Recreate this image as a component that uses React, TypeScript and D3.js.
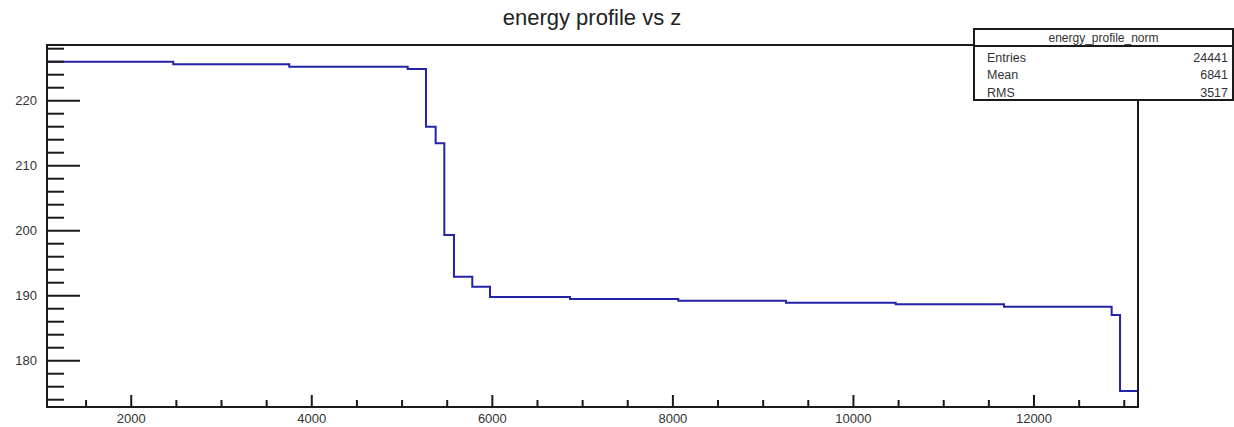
import { useEffect, useRef } from 'react';
import * as d3 from 'd3';

// histogram bin edges (z) and bin contents
const binEdges = [1067, 2466, 3751, 5062, 5265, 5372, 5468, 5575, 5778, 5974, 6860, 8060, 9253, 10468, 11668, 12860, 12953, 13152];
const binValues = [226.0, 225.6, 225.23, 224.88, 216.0, 213.45, 199.34, 192.92, 191.38, 189.8, 189.49, 189.23, 188.92, 188.68, 188.31, 187.03, 175.34];

const xTickLabels = [2000, 4000, 6000, 8000, 10000, 12000];
const yTickLabels = [180, 190, 200, 210, 220];

const statsTitle = 'energy_profile_norm';
const statsNames = ['Entries', 'Mean', 'RMS'];
const statsValues = ['24441', '6841', '3517'];

const TITLE = 'energy profile vs z';

export default function App() {
  const svgRef = useRef<SVGSVGElement | null>(null);

  useEffect(() => {
    const svgElement = svgRef.current;
    if (!svgElement) {
      return;
    }
    const svg = d3.select(svgElement);
    svg.selectAll('*').remove();

    const width = 1234;
    const height = 427;
    const frame = { left: 47, right: 1138, top: 45, bottom: 407 };
    const font = '"Liberation Sans", Arial, Helvetica, sans-serif';
    const ink = '#1a1a1a';

    svg.attr('width', width).attr('height', height).attr('viewBox', `0 0 ${width} ${height}`);
    svg.append('rect').attr('width', width).attr('height', height).attr('fill', '#fff');

    const x = d3.scaleLinear().domain([1067, 13152]).range([frame.left, frame.right]);
    const y = d3.scaleLinear().domain([172.88, 228.57]).range([frame.bottom, frame.top]);

    // step line
    const points: [number, number][] = binValues.map((v, i) => [binEdges[i]!, v]);
    points.push([binEdges[binEdges.length - 1]!, binValues[binValues.length - 1]!]);
    const line = d3
      .line<[number, number]>()
      .x((d) => x(d[0]))
      .y((d) => y(d[1]))
      .curve(d3.curveStepAfter);

    svg
      .append('path')
      .attr('d', line(points))
      .attr('fill', 'none')
      .attr('stroke', '#2323a8')
      .attr('stroke-width', 2);

    // frame
    svg
      .append('rect')
      .attr('x', frame.left)
      .attr('y', frame.top)
      .attr('width', frame.right - frame.left)
      .attr('height', frame.bottom - frame.top)
      .attr('fill', 'none')
      .attr('stroke', ink)
      .attr('stroke-width', 2);

    // x ticks
    const xMinor = d3.range(1500, 13001, 500).filter((v) => !xTickLabels.includes(v));
    const xAxis = svg.append('g').attr('stroke', ink).attr('stroke-width', 2);
    xAxis
      .selectAll('line.minor')
      .data(xMinor)
      .join('line')
      .attr('class', 'minor')
      .attr('x1', (d) => x(d))
      .attr('x2', (d) => x(d))
      .attr('y1', frame.bottom)
      .attr('y2', frame.bottom - 7);
    xAxis
      .selectAll('line.major')
      .data(xTickLabels)
      .join('line')
      .attr('class', 'major')
      .attr('x1', (d) => x(d))
      .attr('x2', (d) => x(d))
      .attr('y1', frame.bottom)
      .attr('y2', frame.bottom - 12);
    svg
      .append('g')
      .selectAll('text')
      .data(xTickLabels)
      .join('text')
      .attr('x', (d) => x(d))
      .attr('y', 423)
      .attr('text-anchor', 'middle')
      .attr('font-family', font)
      .attr('font-size', 13)
      .attr('fill', '#333')
      .text((d) => `${d}`);

    // y ticks
    const yMinor = d3.range(174, 229, 2).filter((v) => !yTickLabels.includes(v));
    const yAxis = svg.append('g').attr('stroke', ink).attr('stroke-width', 2);
    yAxis
      .selectAll('line.minor')
      .data(yMinor)
      .join('line')
      .attr('class', 'minor')
      .attr('x1', frame.left)
      .attr('x2', frame.left + 17)
      .attr('y1', (d) => y(d))
      .attr('y2', (d) => y(d));
    yAxis
      .selectAll('line.major')
      .data(yTickLabels)
      .join('line')
      .attr('class', 'major')
      .attr('x1', frame.left)
      .attr('x2', frame.left + 33)
      .attr('y1', (d) => y(d))
      .attr('y2', (d) => y(d));
    svg
      .append('g')
      .selectAll('text')
      .data(yTickLabels)
      .join('text')
      .attr('x', 37)
      .attr('y', (d) => y(d) + 4.5)
      .attr('text-anchor', 'end')
      .attr('font-family', font)
      .attr('font-size', 13)
      .attr('fill', '#333')
      .text((d) => `${d}`);

    // title
    svg
      .append('text')
      .attr('x', 592)
      .attr('y', 25)
      .attr('text-anchor', 'middle')
      .attr('font-family', font)
      .attr('font-size', 22)
      .attr('fill', '#222')
      .text(TITLE);

    // stats box
    const box = { left: 974, right: 1233, top: 29, header: 46, bottom: 100 };
    const stats = svg.append('g');
    stats
      .append('rect')
      .attr('x', box.left)
      .attr('y', box.top)
      .attr('width', box.right - box.left)
      .attr('height', box.bottom - box.top)
      .attr('fill', '#fff')
      .attr('stroke', ink)
      .attr('stroke-width', 2);
    stats
      .append('line')
      .attr('x1', box.left)
      .attr('x2', box.right)
      .attr('y1', box.header)
      .attr('y2', box.header)
      .attr('stroke', ink)
      .attr('stroke-width', 2);
    stats
      .append('text')
      .attr('x', (box.left + box.right) / 2)
      .attr('y', 41.5)
      .attr('text-anchor', 'middle')
      .attr('font-family', font)
      .attr('font-size', 12)
      .attr('fill', '#333')
      .text(statsTitle);
    const rowY = [61.5, 79, 97];
    stats
      .selectAll('text.name')
      .data(statsNames)
      .join('text')
      .attr('class', 'name')
      .attr('x', 987)
      .attr('y', (_, i) => rowY[i]!)
      .attr('font-family', font)
      .attr('font-size', 12.5)
      .attr('fill', '#333')
      .text((d) => d);
    stats
      .selectAll('text.value')
      .data(statsValues)
      .join('text')
      .attr('class', 'value')
      .attr('x', 1228)
      .attr('y', (_, i) => rowY[i]!)
      .attr('text-anchor', 'end')
      .attr('font-family', font)
      .attr('font-size', 12.5)
      .attr('fill', '#333')
      .text((d) => d);
  }, []);

  return <svg ref={svgRef} style={{ position: 'absolute', left: 0, top: 0, display: 'block' }} />;
}
